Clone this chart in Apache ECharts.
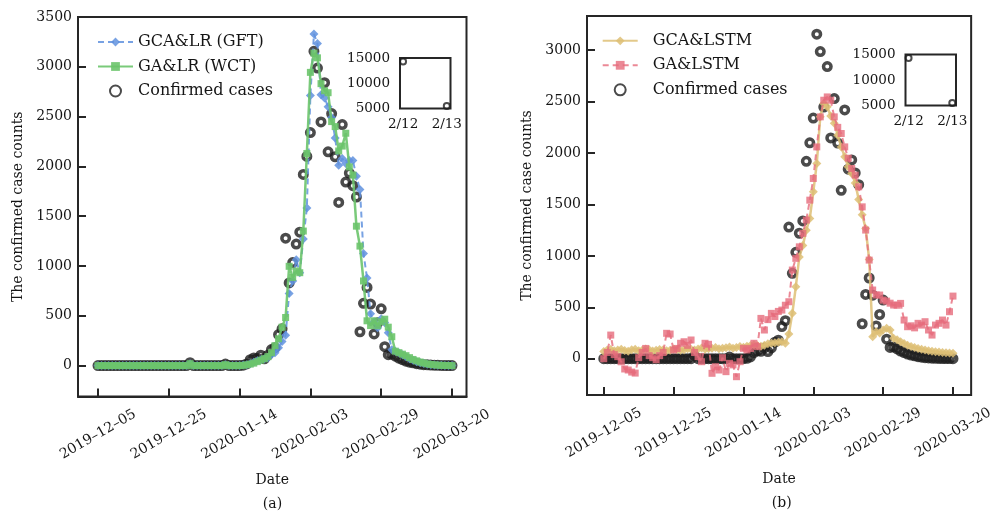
<!DOCTYPE html>
<html>
<head>
<meta charset="utf-8">
<script src="https://cdn.jsdelivr.net/npm/echarts@6/dist/echarts.min.js"></script>
<style>
  html, body { margin: 0; padding: 0; background: #fff; }
  #chart { width: 996px; height: 515px; }
</style>
</head>
<body>
<div id="chart"></div>
<script>
  // x ticks every 20 days, labels as printed in the figure
  const dateTicks = ['2019–12–05', '2019–12–25', '2020–01–14', '2020–02–03', '2020–02–29', '2020–03–20']

  const confirmed = [
    0, 0, 0, 0, 0, 0, 0, 0, 0, 0,
    0, 0, 0, 0, 0, 0, 0, 0, 0, 0,
    0, 0, 0, 0, 0, 0, 30, 0, 0, 0,
    0, 0, 0, 0, 0, 0, 16, 0, 0, 0,
    0, 4, 17, 59, 77, 72, 105, 69, 105, 161,
    180, 312, 370, 1280, 830, 1035, 1220, 1340, 1920, 2100,
    2340, 3156, 2987, 2447, 2841, 2147, 2530, 2097, 1638, 2420,
    1843, 1933, 1807, 1693, 340, 625, 785, 618, 318, 430,
    570, 190, 110, 115, 95, 75, 60, 45, 35, 28,
    20, 15, 10, 8, 5, 4, 3, 2, 1, 1, 0
  ]

  const gcaLrGft = [
    0, 0, 0, 0, 0, 0, 0, 0, 0, 0,
    0, 0, 0, 0, 0, 0, 0, 0, 0, 0,
    0, 0, 0, 0, 0, 0, 20, 0, 0, 0,
    0, 0, 0, 0, 0, 0, 10, 0, 0, 0,
    0, 5, 10, 20, 35, 50, 60, 70, 80, 110,
    128, 180, 241, 306, 724, 850, 1062, 933, 1271, 1583,
    2712, 3330, 3234, 2720, 2686, 2600, 2490, 2285, 2011, 2080,
    2030, 2060, 2059, 1900, 1769, 1126, 880, 520, 440, 380,
    470, 430, 330, 160, 145, 130, 110, 90, 70, 55,
    40, 30, 22, 15, 10, 6, 4, 3, 2, 1, 0
  ]

  const gaLrWct = [
    0, 0, 0, 0, 0, 0, 0, 0, 0, 0,
    0, 0, 0, 0, 0, 0, 0, 0, 0, 0,
    0, 0, 0, 0, 0, 0, 20, 0, 0, 0,
    0, 0, 0, 0, 0, 0, 10, 0, 0, 0,
    0, 3, 8, 15, 25, 40, 55, 70, 90, 130,
    200, 270, 386, 483, 997, 885, 950, 933, 1351, 2130,
    2944, 3137, 3090, 2831, 2760, 2740, 2450, 2400, 2155, 2204,
    2333, 1995, 1914, 1400, 1200, 850, 450, 402, 450, 400,
    440, 466, 386, 290, 145, 130, 115, 100, 80, 62,
    48, 36, 26, 18, 12, 8, 5, 3, 2, 1, 0
  ]

  const gcaLstm = [
    70, 85, 90, 78, 85, 92, 80, 72, 88, 92,
    78, 82, 95, 86, 74, 82, 90, 86, 78, 82,
    95, 90, 82, 86, 98, 92, 84, 95, 104, 92,
    96, 102, 108, 96, 102, 106, 114, 102, 110, 118,
    112, 122, 128, 136, 128, 120, 132, 145, 150, 155,
    160, 165, 150, 240, 441, 700, 990, 1100, 1250, 1364,
    1623, 1899, 2352, 2482, 2450, 2360, 2290, 2174, 2060, 1963,
    1866, 1801, 1710, 1549, 1400, 1267, 966, 214, 262, 250,
    280, 295, 279, 200, 185, 165, 148, 132, 118, 108,
    100, 92, 85, 78, 72, 68, 64, 60, 58, 55, 52
  ]

  const gaLstm = [
    0, 60, 230, 40, 20, -30, -100, -110, -130, -140,
    10, 60, 100, 30, 10, -10, 30, 60, 247, 240,
    85, 100, 150, 165, 130, 182, 60, 20, -29, 150,
    140, -142, -78, -110, 10, -126, -45, -60, -175, -29,
    101, 85, 100, 150, 117, 392, 279, 380, 441, 410,
    460, 473, 520, 554, 862, 976, 1088, 1219, 1348, 1542,
    1753, 2060, 2352, 2514, 2546, 2514, 2352, 2250, 2190, 2060,
    1950, 1850, 1785, 1672, 1477, 1251, 959, 668, 620, 619,
    570, 560, 540, 522, 520, 538, 376, 311, 320, 300,
    344, 327, 360, 279, 230, 327, 344, 376, 327, 457, 609
  ]

  // the 2/12 - 2/13 outliers are drawn in the small boxes
  const insetDates = ['2/12', '2/13']
  const insetConfirmed = [14300, 5500]

  const FONT = 'DejaVu Serif'
  const TEXT = '#151515'
  const FRAME = '#262626'

  function toPoints (values) {
    return values.map(function (v, i) { return [i, v] })
  }

  function mainX (gridIndex, min, max) {
    return {
      type: 'value',
      gridIndex: gridIndex,
      z: 10,
      min: min,
      max: max,
      minInterval: 20,
      maxInterval: 20,
      axisLine: { show: true, onZero: false, lineStyle: { color: FRAME, width: 2 } },
      splitLine: { show: false },
      axisTick: { show: true, inside: true, length: 8, lineStyle: { color: FRAME, width: 2 } },
      axisLabel: {
        rotate: 30,
        align: 'center',
        verticalAlign: 'middle',
        margin: 38,
        showMinLabel: false,
        showMaxLabel: false,
        fontFamily: FONT,
        fontSize: 14,
        color: TEXT,
        formatter: function (v) {
          return v % 20 === 0 ? (dateTicks[v / 20] || '') : ''
        }
      },
      name: 'Date',
      nameLocation: 'middle',
      nameGap: 77,
      nameTextStyle: { fontFamily: FONT, fontSize: 14, color: TEXT }
    }
  }

  function mainY (gridIndex, min, max) {
    return {
      type: 'value',
      gridIndex: gridIndex,
      z: 10,
      min: min,
      max: max,
      minInterval: 500,
      maxInterval: 500,
      axisLine: { show: true, onZero: false, lineStyle: { color: FRAME, width: 2 } },
      splitLine: { show: false },
      axisTick: { show: true, inside: true, length: 8, lineStyle: { color: FRAME, width: 2 } },
      axisLabel: {
        margin: 6,
        showMinLabel: false,
        fontFamily: FONT,
        fontSize: 14,
        color: TEXT,
        formatter: function (v) { return v % 500 === 0 ? String(v) : '' }
      },
      name: 'The confirmed case counts',
      nameLocation: 'middle',
      nameRotate: 90,
      nameGap: 53,
      nameTextStyle: { fontFamily: FONT, fontSize: 14, color: TEXT }
    }
  }

  function insetX (gridIndex) {
    return {
      type: 'value',
      gridIndex: gridIndex,
      min: -0.07,
      max: 1.085,
      minInterval: 1,
      maxInterval: 1,
      axisLine: { show: false, onZero: false },
      axisTick: { show: false },
      splitLine: { show: false },
      axisLabel: {
        margin: 9,
        showMinLabel: false,
        showMaxLabel: false,
        fontFamily: FONT,
        fontSize: 13.5,
        color: TEXT,
        formatter: function (v) { return insetDates[v] || '' }
      }
    }
  }

  function insetY (gridIndex) {
    return {
      type: 'value',
      gridIndex: gridIndex,
      min: 5000,
      max: 15000,
      interval: 5000,
      axisLine: { show: false, onZero: false },
      axisTick: { show: false },
      splitLine: { show: false },
      axisLabel: {
        margin: 10,
        fontFamily: FONT,
        fontSize: 13.5,
        color: TEXT,
        formatter: function (v) { return String(v) }
      }
    }
  }

  const circleStyle = { color: 'rgba(255,255,255,0)', borderColor: '#1e1e1e', borderWidth: 3.5 }

  function legendBox (left, top, names, textGap) {
    return {
      orient: 'vertical',
      left: left,
      top: top,
      padding: 0,
      itemWidth: 35,
      itemHeight: 11,
      itemGap: 8.5,
      data: names,
      textStyle: {
        fontFamily: FONT,
        fontSize: 16,
        lineHeight: 16,
        color: TEXT,
        padding: [0, 0, 0, textGap]
      }
    }
  }

  const chart = echarts.init(document.getElementById('chart'))
  chart.setOption({
    animation: false,
    grid: [
      { left: 78, top: 17, width: 388.5, height: 379.5, show: true, borderColor: FRAME, borderWidth: 2 },
      { left: 587, top: 16, width: 389, height: 379, show: true, borderColor: FRAME, borderWidth: 2 },
      { left: 400, top: 58, width: 50.5, height: 50.5, show: true, borderColor: FRAME, borderWidth: 2 },
      { left: 905.5, top: 54.5, width: 50.5, height: 51, show: true, borderColor: FRAME, borderWidth: 2 }
    ],
    xAxis: [mainX(0, -5.65, 104.1), mainX(1, -4.8, 105.2), insetX(2), insetX(3)],
    yAxis: [mainY(0, -310, 3500), mainY(1, -353, 3333), insetY(2), insetY(3)],
    legend: [
      legendBox(97, 34, ['GCA&LR (GFT)', 'GA&LR (WCT)', 'Confirmed cases'], 0),
      legendBox(601.7, 32.8, ['GCA&LSTM', 'GA&LSTM', 'Confirmed cases'], 10)
    ],
    series: [
      {
        name: 'Confirmed cases', type: 'scatter', xAxisIndex: 0, yAxisIndex: 0, z: 2,
        symbol: 'circle', symbolSize: 7.5, itemStyle: circleStyle,
        data: toPoints(confirmed)
      },
      {
        name: 'GCA&LR (GFT)', type: 'line', xAxisIndex: 0, yAxisIndex: 0, z: 3,
        symbol: 'diamond', symbolSize: 9,
        lineStyle: { color: 'rgba(96,146,222,0.85)', width: 2, type: [6, 4] },
        itemStyle: { color: 'rgba(96,146,222,0.85)' },
        data: toPoints(gcaLrGft)
      },
      {
        name: 'GA&LR (WCT)', type: 'line', xAxisIndex: 0, yAxisIndex: 0, z: 4,
        symbol: 'rect', symbolSize: 7,
        lineStyle: { color: 'rgba(108,196,108,0.9)', width: 2.5 },
        itemStyle: { color: 'rgba(108,196,108,0.9)' },
        data: toPoints(gaLrWct)
      },
      {
        name: 'Confirmed cases', type: 'scatter', xAxisIndex: 1, yAxisIndex: 1, z: 2,
        symbol: 'circle', symbolSize: 7.5, itemStyle: circleStyle,
        data: toPoints(confirmed)
      },
      {
        name: 'GCA&LSTM', type: 'line', xAxisIndex: 1, yAxisIndex: 1, z: 3,
        symbol: 'diamond', symbolSize: 9,
        lineStyle: { color: 'rgba(222,192,118,0.85)', width: 2.5 },
        itemStyle: { color: 'rgba(222,192,118,0.85)' },
        data: toPoints(gcaLstm)
      },
      {
        name: 'GA&LSTM', type: 'line', xAxisIndex: 1, yAxisIndex: 1, z: 4,
        symbol: 'rect', symbolSize: 7,
        lineStyle: { color: 'rgba(230,108,124,0.8)', width: 2, type: [6, 4] },
        itemStyle: { color: 'rgba(230,108,124,0.8)' },
        data: toPoints(gaLstm)
      },
      {
        name: 'inset a', type: 'scatter', xAxisIndex: 2, yAxisIndex: 2,
        symbol: 'circle', symbolSize: 6, itemStyle: { color: 'rgba(255,255,255,0)', borderColor: '#1e1e1e', borderWidth: 2 },
        data: toPoints(insetConfirmed)
      },
      {
        name: 'inset b', type: 'scatter', xAxisIndex: 3, yAxisIndex: 3,
        symbol: 'circle', symbolSize: 6, itemStyle: { color: 'rgba(255,255,255,0)', borderColor: '#1e1e1e', borderWidth: 2 },
        data: toPoints(insetConfirmed)
      }
    ],
    graphic: [
      { type: 'text', x: 272.5, y: 504, style: { text: '(a)', font: '14px "DejaVu Serif"', fill: TEXT, align: 'center', verticalAlign: 'middle' } },
      { type: 'text', x: 781.7, y: 503, style: { text: '(b)', font: '14px "DejaVu Serif"', fill: TEXT, align: 'center', verticalAlign: 'middle' } }
    ]
  })
</script>
</body>
</html>
